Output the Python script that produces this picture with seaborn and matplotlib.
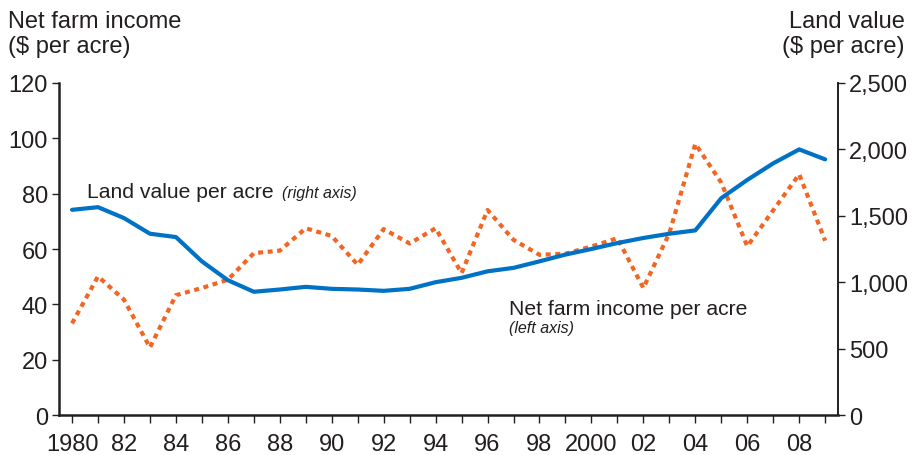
import numpy as np
import pandas as pd
import matplotlib
matplotlib.use("Agg")
import matplotlib.pyplot as plt
import seaborn as sns

# --------------------------
# Data
# --------------------------
years = list(range(1980, 2010))

land_value = [1545, 1565, 1483, 1365, 1340, 1157, 1015, 928, 945, 965,
              950, 945, 935, 950, 1000, 1033, 1082, 1108, 1157, 1208,
              1250, 1295, 1333, 1365, 1390, 1633, 1770, 1895, 2000, 1925]

net_income = [33.1, 50.1, 41.7, 24.4, 43.3, 45.9, 48.9, 58.5, 59.4, 67.5,
              64.7, 54.3, 67.2, 62.0, 67.5, 51.3, 74.1, 63.3, 57.9, 58.3,
              60.9, 63.9, 45.9, 65.7, 98.0, 84.0, 61.0, 74.0, 87.0, 63.0]

year_labels = ["1980", "", "82", "", "84", "", "86", "", "88", "",
               "90", "", "92", "", "94", "", "96", "", "98", "",
               "2000", "", "02", "", "04", "", "06", "", "08", ""]

df = pd.DataFrame({"ano": years, "terra": land_value, "renda": net_income})

# --------------------------
# Style
# --------------------------
sns.set_style("ticks")
plt.rcParams["font.family"] = ["Liberation Sans", "DejaVu Sans"]
texto = "#231F20"
azul = "#0072C6"
laranja = "#F26522"

fig = plt.figure(figsize=(9.14, 4.56), dpi=100)
ax = fig.add_axes([0.0646, 0.0877, 0.8524, 0.7281])
ax2 = ax.twinx()

# Net farm income - left axis, dotted orange
sns.lineplot(data=df, x="ano", y="renda", ax=ax, color=laranja,
             linewidth=3.0, linestyle=(0, (1.2, 1.1)))
# Land value - right axis, solid blue
sns.lineplot(data=df, x="ano", y="terra", ax=ax2, color=azul, linewidth=3.0)

ax.set_xlim(1979.5, 2009.5)
ax.set_ylim(0, 120)
ax2.set_ylim(0, 2500)

ax.set_xticks(years)
ax.set_xticklabels(year_labels)
ax.set_yticks(range(0, 121, 20))
ax2.set_yticks(range(0, 2501, 500))
ax2.set_yticklabels([f"{v:,}" for v in range(0, 2501, 500)])

for a in (ax, ax2):
    a.set_xlabel("")
    a.set_ylabel("")
    for s in a.spines.values():
        s.set_color(texto)
    a.spines["top"].set_visible(False)

ax.spines["left"].set_linewidth(1.8)
ax.spines["bottom"].set_linewidth(1.8)
ax.spines["right"].set_visible(False)
ax2.spines["left"].set_visible(False)
ax2.spines["bottom"].set_visible(False)
ax2.spines["right"].set_visible(True)
ax2.spines["right"].set_linewidth(1.4)

ax.tick_params(axis="x", direction="out", length=6, width=1, colors=texto,
               labelsize=17, pad=7)
ax.tick_params(axis="y", direction="out", length=5, width=1, colors=texto,
               labelsize=17, pad=3)
ax2.tick_params(axis="y", direction="out", length=5, width=1, colors=texto,
                labelsize=17, pad=3)

# Axis titles
fig.text(8 / 914, 1 - 11 / 456, "Net farm income\n($ per acre)", ha="left",
         va="top", fontsize=17, color=texto, linespacing=1.2)
fig.text(905 / 914, 1 - 11 / 456, "Land value\n($ per acre)", ha="right",
         va="top", fontsize=17, color=texto, linespacing=1.2)

# Series annotations
fig.text(87 / 914, 1 - 198 / 456, "Land value per acre", ha="left",
         va="baseline", fontsize=15.2, color=texto)
fig.text(282 / 914, 1 - 198 / 456, "(right axis)", ha="left",
         va="baseline", fontsize=11.5, style="italic", color=texto)
fig.text(509 / 914, 1 - 315 / 456, "Net farm income per acre", ha="left",
         va="baseline", fontsize=15.2, color=texto)
fig.text(509 / 914, 1 - 333 / 456, "(left axis)", ha="left",
         va="baseline", fontsize=11.5, style="italic", color=texto)

fig.savefig("out.png", dpi=100)
